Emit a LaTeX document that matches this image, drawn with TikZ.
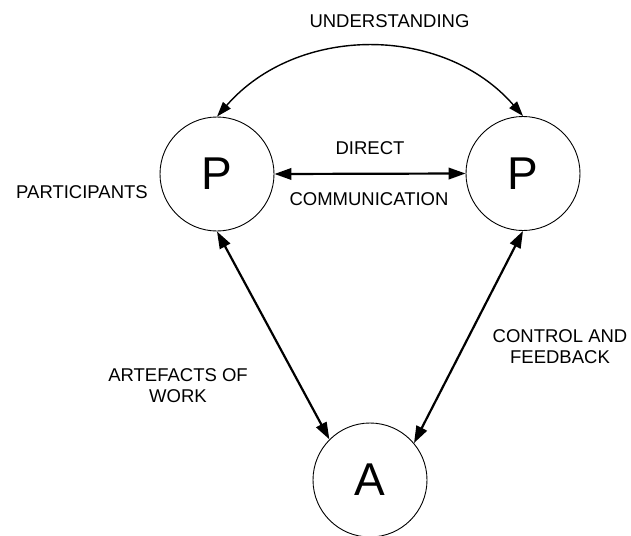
\documentclass[tikz,border=0pt]{standalone}
\usepackage{fontspec}
\setmainfont{Liberation Sans}
\usetikzlibrary{arrows.meta,calc}
\begin{document}
\begin{tikzpicture}[x=1pt,y=-1pt,
  ball/.style={circle,draw,line width=0.9pt,minimum size=114pt,inner sep=0pt,font=\fontsize{46}{54}\selectfont},
  lbl/.style={inner sep=0pt,font=\fontsize{18.5}{21}\selectfont,align=center},
  link/.style={line width=2.2pt,{Triangle[length=17pt,width=11.5pt]}-{Triangle[length=17pt,width=11.5pt]}},
  arcline/.style={line width=1.4pt,{Triangle[length=15pt,width=10pt]}-{Triangle[length=15pt,width=10pt]}}
  ]
\useasboundingbox (0,0) rectangle (631,535);
\node[ball] (Pl) at (217,174) {P};
\node[ball] (Pr) at (523,173.5) {P};
\node[ball] (A) at (370,480) {A};
\node[lbl] (und) at (389.5,21.4) {UNDERSTANDING};
\node[lbl] (dir) at (370,147.7) {DIRECT};
\node[lbl] (com) at (369,199.5) {COMMUNICATION};
\node[lbl] (par) at (82,192.6) {PARTICIPANTS};
\node[lbl] (ctl) at (560,346.5) {CONTROL AND\\FEEDBACK};
\node[lbl] (art) at (178,385.5) {ARTEFACTS OF\\WORK};
\draw[arcline] (Pl.north) .. controls ($(Pl.north)+(80,-92)$) and ($(Pr.north)+(-80,-92)$) .. (Pr.north);
\draw[link] (Pl.east) -- (Pr.west);
\draw[link] (Pl.south) -- (A.135);
\draw[link] (Pr.south) -- (A.40);
\end{tikzpicture}
\end{document}
